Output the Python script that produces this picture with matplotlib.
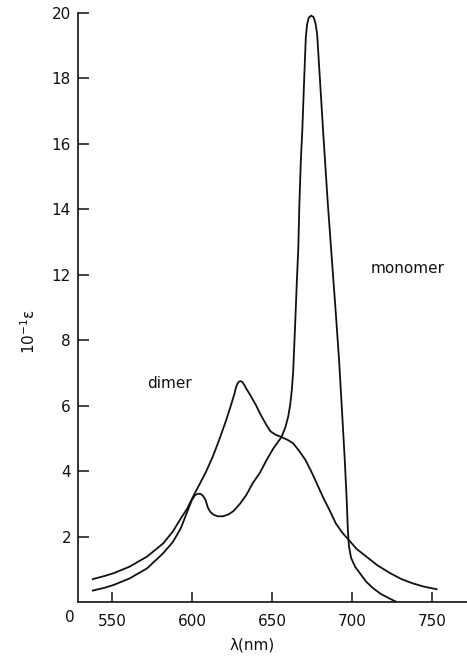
import numpy as np
import matplotlib
matplotlib.use('Agg')
import matplotlib.pyplot as plt

# wavelength (nm) / value pairs
dimer_nm = [538, 545, 551, 561, 572, 582, 588, 593, 597, 601, 605, 609, 613, 617,
            621, 624, 626.5, 627.5, 628.5, 629.5, 630.5, 631.5, 632.5, 634, 636,
            640, 643, 646.7, 649, 652, 656, 660, 663.3, 667, 671, 675, 678, 682,
            686, 690, 694, 698, 703, 709, 716, 724, 731, 738, 745, 753]
dimer_val = [0.70, 0.79, 0.88, 1.08, 1.39, 1.79, 2.15, 2.55, 2.85, 3.25, 3.62, 4.0,
             4.44, 4.95, 5.5, 5.95, 6.35, 6.55, 6.68, 6.74, 6.75, 6.72, 6.65, 6.52,
             6.36, 6.02, 5.72, 5.4, 5.22, 5.12, 5.04, 4.95, 4.85, 4.62, 4.34, 3.95,
             3.63, 3.2, 2.81, 2.4, 2.12, 1.90, 1.62, 1.39, 1.12, 0.88, 0.70, 0.57,
             0.47, 0.39]

monomer_nm = [538, 545, 551, 561, 572, 582, 588, 593, 597, 600, 602, 604, 605.5,
              607, 608.5, 610, 611.5, 613.5, 616, 619.5, 623, 626, 630, 634, 638,
              642.5, 646.7, 651, 656, 658.5, 660.2, 661.5, 662.5, 663.3, 664, 664.8,
              665.6, 666.5, 667.2, 668.1, 669, 670.2, 671.2, 672, 673, 674.5, 676,
              677.3, 678.3, 680, 682.1, 684.8, 687.3, 690, 692, 694, 695.5, 696.7,
              697.5, 698.2, 699.5, 702, 705, 709, 713.3, 718, 723, 728]
monomer_val = [0.35, 0.43, 0.52, 0.72, 1.03, 1.49, 1.83, 2.25, 2.75, 3.12, 3.27,
               3.31, 3.30, 3.24, 3.12, 2.88, 2.75, 2.67, 2.62, 2.62, 2.68, 2.78,
               3.0, 3.27, 3.63, 3.95, 4.34, 4.7, 5.04, 5.35, 5.67, 6.05, 6.5, 7.05,
               7.85, 8.8, 9.8, 10.8, 12.2, 13.5, 14.4, 16.0, 17.25, 17.65, 17.85,
               17.92, 17.88, 17.68, 17.35, 16.0, 14.33, 12.29, 10.6, 8.8, 7.4, 5.7,
               4.4, 3.2, 2.2, 1.7, 1.35, 1.08, 0.88, 0.62, 0.42, 0.25, 0.12, 0.0]

x_ticks = [550, 600, 650, 700, 750]
y_ticks = [2, 4, 6, 8, 10, 12, 14, 16, 18]
# the original figure labels its y ticks this way (no "10")
y_labels = ['2', '4', '6', '8', '12', '14', '16', '18', '20']

W, H = 467, 656
fig = plt.figure(figsize=(W / 100, H / 100), dpi=100)
ax = fig.add_axes([78 / W, 1 - 602 / H, 1 - 78 / W, (602 - 13) / H])

ink = '#111111'
ax.plot(dimer_nm, dimer_val, color=ink, lw=1.3, solid_joinstyle='round')
ax.plot(monomer_nm, monomer_val, color=ink, lw=1.3, solid_joinstyle='round')

ax.set_xlim(528.75, 772)
ax.set_ylim(0, 18)
for s in ['top', 'right']:
    ax.spines[s].set_visible(False)
for s in ['left', 'bottom']:
    ax.spines[s].set_linewidth(1.2)
    ax.spines[s].set_color(ink)

ax.set_xticks(x_ticks)
ax.set_xticklabels([str(v) for v in x_ticks])
ax.set_yticks(y_ticks)
ax.set_yticklabels(y_labels)
ax.tick_params(axis='x', direction='in', length=7, width=1.1, pad=9,
               labelsize=11, colors=ink)
ax.tick_params(axis='y', direction='in', length=8, width=1.1, pad=5,
               labelsize=11, colors=ink)

ax.text(586, 6.67, 'dimer', ha='center', va='center', fontsize=11, color=ink)
ax.text(735, 10.18, 'monomer', ha='center', va='center', fontsize=11, color=ink)

fig.text(70 / W, 1 - 618 / H, '0', ha='center', va='center', fontsize=11, color=ink)
fig.text(252 / W, 1 - 645 / H, 'λ(nm)', ha='center', va='center', fontsize=11, color=ink)
fig.text(29 / W, 1 - 332 / H, r'10$^{-1}$ε', ha='center', va='center', fontsize=11,
         rotation=90, color=ink)

fig.savefig('out.png', dpi=100)
